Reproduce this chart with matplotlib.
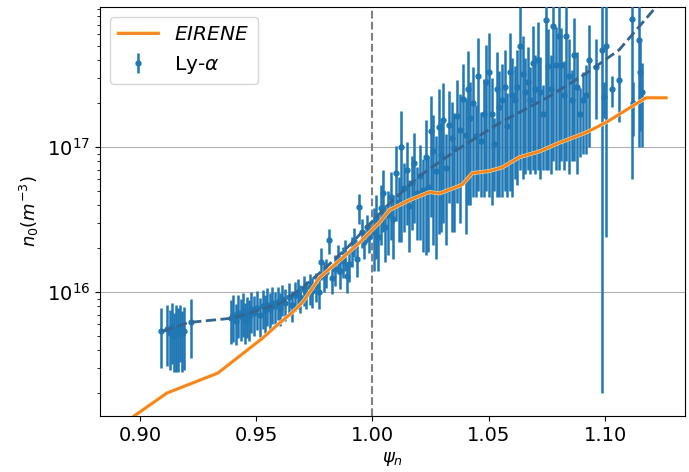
import numpy as np
import matplotlib
matplotlib.use('Agg')
import matplotlib.pyplot as plt
import matplotlib.patheffects as pe

# Ly-alpha measurements: psi_n, n0 and error (units of 1e16 m^-3)
psi = [0.9092, 0.9115, 0.9128, 0.9137, 0.9146, 0.9155, 0.9163, 0.9172, 0.9181, 0.9189, 0.9219,
       0.9390, 0.9400, 0.9412, 0.9420, 0.9433, 0.9442, 0.9450, 0.9459, 0.9468, 0.9476,
       0.9490, 0.9502, 0.9515, 0.9528, 0.9537, 0.9545, 0.9558, 0.9567,
       0.9580, 0.9592, 0.9601, 0.9612, 0.9625, 0.9640, 0.9652, 0.9665, 0.9678, 0.9690,
       0.9704, 0.9715, 0.9730, 0.9742, 0.9755, 0.9768, 0.9780, 0.9790, 0.9802, 0.9815,
       0.9828, 0.9840, 0.9852,
       0.9862, 0.9872, 0.9880, 0.9890, 0.9898, 0.9910, 0.9920, 0.9932, 0.9944, 0.9955,
       0.9965, 0.9975, 0.9985,
       1.0005, 1.0015, 1.0025, 1.0035, 1.0045, 1.0055, 1.0065, 1.0078, 1.0090, 1.0100,
       1.0112, 1.0122, 1.0135, 1.0147, 1.0158, 1.0168, 1.0180, 1.0192,
       1.0205, 1.0215, 1.0228, 1.0240, 1.0250, 1.0262, 1.0272, 1.0285, 1.0295, 1.0305,
       1.0318, 1.0330, 1.0342, 1.0352, 1.0365, 1.0378, 1.0390, 1.0400,
       1.0410, 1.0420, 1.0432, 1.0445, 1.0455, 1.0465, 1.0478, 1.0490, 1.0500, 1.0512,
       1.0522, 1.0535, 1.0545, 1.0555, 1.0568, 1.0578, 1.0590, 1.0600,
       1.0612, 1.0622, 1.0635, 1.0645, 1.0655, 1.0668, 1.0678, 1.0690, 1.0700, 1.0712,
       1.0722, 1.0735, 1.0745, 1.0755, 1.0768, 1.0778, 1.0790, 1.0800,
       1.0810, 1.0822, 1.0832, 1.0845, 1.0858, 1.0868, 1.0880, 1.0892, 1.0905, 1.0918, 1.0930,
       1.0960, 1.0987, 1.0995, 1.1004, 1.1030, 1.1060, 1.1116, 1.1120, 1.1146, 1.1150, 1.1158]
n0 = [0.54, 0.56, 0.52, 0.58, 0.50, 0.55, 0.53, 0.57, 0.51, 0.54, 0.62,
      0.66, 0.70, 0.63, 0.72, 0.68, 0.74, 0.64, 0.70, 0.67, 0.76,
      0.72, 0.78, 0.70, 0.80, 0.74, 0.82, 0.76, 0.84,
      0.80, 0.86, 0.78, 0.90, 0.84, 0.92, 0.82, 0.96, 1.00, 0.92,
      1.05, 0.98, 1.08, 1.02, 1.10, 1.00, 1.62, 1.30, 1.38, 2.28,
      1.25, 1.45, 1.72,
      1.40, 1.65, 1.85, 1.30, 1.55, 1.95, 2.25, 1.70, 3.85, 2.60,
      2.20, 2.80, 2.40,
      2.60, 3.20, 2.40, 3.80, 4.80, 2.80, 3.40, 4.50, 3.20, 6.60,
      4.20, 10.0, 5.20, 6.90, 3.90, 5.70, 7.80, 4.80,
      6.3, 5.1, 8.6, 5.3, 12.9, 9.4, 6.8, 13.8, 8.8, 15.4,
      7.2, 14.3, 11.6, 9.9, 16.5, 13.2, 21.5, 12.1,
      25.0, 16.0, 20.0, 12.0, 31.0, 11.0, 17.0, 28.0, 33.0, 17.0,
      10.5, 25.0, 19.0, 21.0, 26.0, 14.0, 33.0, 23.0,
      21.0, 26.0, 50.0, 32.0, 24.0, 28.0, 21.0, 38.0, 25.0, 40.0,
      24.0, 17.0, 75.0, 36.0, 25.0, 68.0, 37.0, 58.0,
      37.0, 23.0, 58.0, 31.0, 21.0, 43.0, 26.0, 17.0, 21.0, 23.0, 40.0,
      35.6, 47.0, 22.0, 50.0, 25.0, 29.0, 76.0, 20.0, 55.0, 33.0, 24.0]
n0_err = [0.24, 0.25, 0.23, 0.26, 0.22, 0.27, 0.25, 0.24, 0.23, 0.25, 0.27,
          0.22, 0.25, 0.20, 0.24, 0.22, 0.25, 0.20, 0.22, 0.21, 0.24,
          0.22, 0.23, 0.21, 0.24, 0.22, 0.24, 0.22, 0.24,
          0.20, 0.22, 0.20, 0.22, 0.21, 0.24, 0.20, 0.22, 0.24, 0.20,
          0.25, 0.22, 0.26, 0.24, 0.25, 0.24, 0.40, 0.30, 0.32, 0.45,
          0.28, 0.35, 0.38,
          0.35, 0.40, 0.45, 0.32, 0.38, 0.45, 0.50, 0.42, 0.90, 0.60,
          0.50, 0.60, 0.55,
          1.2, 1.5, 1.0, 1.7, 2.2, 1.2, 1.6, 2.2, 1.5, 3.5,
          2.0, 7.8, 2.6, 4.0, 2.0, 3.0, 4.8, 2.5,
          4.0, 3.2, 6.8, 3.4, 9.6, 7.3, 5.1, 11.3, 6.2, 12.4,
          5.1, 10.2, 9.0, 7.3, 12.4, 10.2, 15.8, 9.6,
          21.0, 12.0, 15.5, 7.5, 26.0, 6.5, 12.5, 23.0, 28.5, 13.0,
          5.5, 20.5, 14.5, 16.5, 21.0, 9.5, 28.0, 18.5,
          15.0, 20.5, 43.0, 26.0, 17.5, 21.0, 14.5, 31.0, 18.5, 33.0,
          18.0, 10.0, 68.0, 29.0, 18.5, 60.0, 30.0, 51.0,
          29.0, 16.0, 50.0, 24.5, 13.0, 35.0, 19.5, 8.5, 12.0, 14.0, 30.0,
          20.0, 46.8, 6.0, 47.6, 6.0, 14.0, 70.0, 8.0, 45.0, 20.0, 14.0]

# fit through the Ly-alpha points (units of 1e16)
fit_psi = [0.910, 0.921, 0.940, 0.960, 0.970, 0.980, 0.990, 1.006, 1.020, 1.036,
           1.055, 1.075, 1.092, 1.106, 1.122, 1.128]
fit_n0 = [0.537, 0.617, 0.661, 0.83, 1.07, 1.48, 2.09, 3.9, 6.3, 9.5,
          14.8, 21.9, 32.4, 46.8, 93.0, 110.0]

# EIRENE simulation (units of 1e16)
eir_psi = [0.8900, 0.9116, 0.9335, 0.9528, 0.9600, 0.9657, 0.9700, 0.9773, 0.9860,
           0.9944, 1.0030, 1.0073, 1.0159, 1.0245, 1.0288, 1.0386, 1.0429, 1.0502,
           1.0558, 1.0631, 1.0717, 1.0803, 1.0918, 1.1004, 1.1090, 1.1176, 1.1262]
eir_n0 = [0.115, 0.201, 0.276, 0.482, 0.611, 0.728, 0.851, 1.26, 1.66,
          2.19, 3.02, 3.68, 4.31, 4.90, 4.79, 5.50, 6.61, 6.84,
          7.24, 8.51, 9.33, 10.7, 12.6, 14.8, 18.0, 21.9, 21.9]

scale = 1e16
psi = np.array(psi)
n0 = np.array(n0) * scale
n0_err = np.array(n0_err) * scale

fig = plt.figure(figsize=(6.89, 4.72), dpi=100)
ax = fig.add_axes([0.145, 0.119, 0.849, 0.866])

ax.errorbar(psi, n0, yerr=n0_err, fmt='o', ms=3.5, color='#1f77b4',
            elinewidth=1.8, label=r'Ly-$\alpha$', zorder=3)
ax.plot(fit_psi, np.array(fit_n0) * scale, '--', color='#35648f', lw=2, zorder=4)
ax.plot(eir_psi, np.array(eir_n0) * scale, color='#f5841f', lw=2, zorder=5,
        label=r'$EIRENE$',
        path_effects=[pe.Stroke(linewidth=2.8, foreground='#ffe2a0'), pe.Normal()])

ax.axvline(1.0, color='grey', ls='--', lw=1.5, zorder=2)

ax.set_yscale('log')
ax.set_xlim(0.8828, 1.1343)
ax.set_ylim(1.40e15, 9.25e17)
ax.grid(True, which='major', axis='y', color='#b0b0b0', lw=0.8)
ax.set_axisbelow(True)

ax.tick_params(labelsize=14)
ax.set_xlabel(r'$\psi_n$', fontsize=13, labelpad=4)
ax.set_ylabel(r'$n_0 (m^{-3})$', fontsize=13)

ax.legend(loc='upper left', fontsize=14.5)

fig.savefig('out.png', dpi=100)
